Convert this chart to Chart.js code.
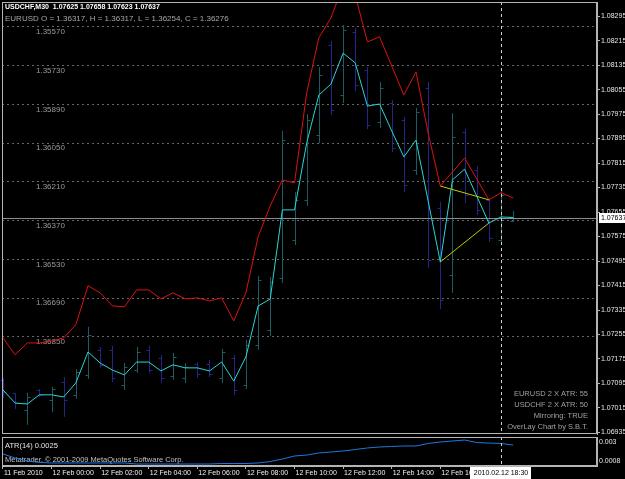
<!DOCTYPE html>
<html>
<head>
<meta charset="utf-8">
<script src="https://cdn.jsdelivr.net/npm/chart.js@4.4.0/dist/chart.umd.min.js"></script>
<style>
body { margin: 0; background: #000; }
#wrap { position: relative; width: 625px; height: 479px; overflow: hidden; background: #000; }
canvas { position: absolute; left: 0; }
#mainChart { top: 0; }
#atrChart { top: 435px; }
</style>
</head>
<body>
<div id="wrap">
<canvas id="mainChart" width="625" height="435"></canvas>
<canvas id="atrChart" width="625" height="44"></canvas>
</div>
<script>
// USDCHF M30 with mirrored EURUSD overlay, 11 Feb 22:00 .. 12 Feb 19:00
const tickBars = [0, 4, 8, 12, 16, 20, 24, 28, 32, 36];
const tickLabels = ['11 Feb 2010', '12 Feb 00:00', '12 Feb 02:00', '12 Feb 04:00', '12 Feb 06:00',
    '12 Feb 08:00', '12 Feb 10:00', '12 Feb 12:00', '12 Feb 14:00', '12 Feb 16:00'];

const usdchfTicks = [1.08295, 1.08215, 1.08135, 1.08055, 1.07975, 1.07895, 1.07815, 1.07735, 1.07655,
    1.07575, 1.07495, 1.07415, 1.07335, 1.07255, 1.07175, 1.07095, 1.07015, 1.06935];
const eurusdTicks = [1.35570, 1.35730, 1.35890, 1.36050, 1.36210, 1.36370, 1.36530, 1.36690, 1.36850];
const atrTicks = [0.003, 0.0008];
const atrTickLabels = ['0.003', '0.0008'];

// USDCHF bars
const barOpen = [1.07107, 1.07064, 1.07009, 1.07074, 1.07041, 1.07100, 1.07058, 1.07123, 1.07205, 1.07205,
    1.07090, 1.07139, 1.07205, 1.07178, 1.07120, 1.07113, 1.07159, 1.07159, 1.07113, 1.07178,
    1.07090, 1.07221, 1.07270, 1.07440, 1.07564, 1.07694, 1.07906, 1.08200, 1.08037, 1.08243,
    1.08119, 1.07949, 1.08011, 1.07955, 1.07792, 1.08060, 1.07668, 1.07449, 1.07916, 1.07792,
    1.07694, 1.07564, 1.07625];
const barHigh = [1.07113, 1.07064, 1.07064, 1.07077, 1.07084, 1.07116, 1.07142, 1.07280, 1.07214, 1.07218,
    1.07162, 1.07214, 1.07218, 1.07188, 1.07195, 1.07162, 1.07165, 1.07172, 1.07208, 1.07188,
    1.07237, 1.07446, 1.07443, 1.07920, 1.07720, 1.07975, 1.08128, 1.08213, 1.08266, 1.08256,
    1.08128, 1.08080, 1.08021, 1.07965, 1.07995, 1.08080, 1.07688, 1.07978, 1.07926, 1.07805,
    1.07701, 1.07733, 1.07658];
const barLow = [1.07048, 1.07012, 1.06960, 1.07051, 1.07002, 1.06986, 1.07045, 1.07110, 1.07146, 1.07100,
    1.07074, 1.07129, 1.07129, 1.07097, 1.07107, 1.07097, 1.07113, 1.07116, 1.07097, 1.07058,
    1.07077, 1.07205, 1.07250, 1.07423, 1.07547, 1.07675, 1.07880, 1.07972, 1.08011, 1.08050,
    1.07926, 1.07929, 1.07851, 1.07720, 1.07776, 1.07472, 1.07338, 1.07391, 1.07684, 1.07645,
    1.07557, 1.07547, 1.07623];
const barClose = [1.07067, 1.07031, 1.07051, 1.07058, 1.07077, 1.07041, 1.07133, 1.07254, 1.07156, 1.07113,
    1.07149, 1.07198, 1.07139, 1.07113, 1.07182, 1.07149, 1.07126, 1.07126, 1.07198, 1.07074,
    1.07221, 1.07433, 1.07427, 1.07890, 1.07694, 1.07955, 1.08102, 1.07988, 1.08249, 1.08070,
    1.07939, 1.08060, 1.07864, 1.07743, 1.07982, 1.07498, 1.07368, 1.07900, 1.07711, 1.07662,
    1.07570, 1.07711, 1.07637];

// overlay lines
const usdchfLine = [1.07074, 1.07031, 1.07028, 1.07058, 1.07058, 1.07051, 1.07097, 1.07198, 1.07162, 1.07139,
    1.07123, 1.07165, 1.07165, 1.07136, 1.07156, 1.07146, 1.07146, 1.07136, 1.07165, 1.07103,
    1.07182, 1.07348, 1.07371, 1.07662, 1.07662, 1.07880, 1.08037, 1.08073, 1.08174, 1.08142,
    1.08001, 1.08008, 1.07920, 1.07835, 1.07890, 1.07691, 1.07492, 1.07760, 1.07795, 1.07707,
    1.07619, 1.07639, 1.07637];
const eurusdLine = [1.36854, 1.36924, 1.36875, 1.36875, 1.36867, 1.36854, 1.36800, 1.36639, 1.36668, 1.36722,
    1.36726, 1.36656, 1.36656, 1.36693, 1.36668, 1.36693, 1.36689, 1.36701, 1.36689, 1.36784,
    1.36668, 1.36437, 1.36309, 1.36202, 1.36214, 1.35843, 1.35615, 1.35533, 1.35397, 1.35438,
    1.35632, 1.35611, 1.35731, 1.35851, 1.35756, 1.36008, 1.36227, 1.36169, 1.36111, 1.36198,
    1.36284, 1.36255, 1.36276];
const trendBars = [36, 40];

const atrValues = [0.00161, 0.00115, 0.00080, 0.00063, 0.00057, 0.00057, 0.00057, 0.00057, 0.00057, 0.00057,
    0.00057, 0.00045, 0.00045, 0.00045, 0.00045, 0.00045, 0.00045, 0.00045, 0.00051, 0.00051,
    0.00051, 0.00057, 0.00074, 0.00103, 0.00138, 0.00149, 0.00173, 0.00184, 0.00196, 0.00213,
    0.00231, 0.00242, 0.00248, 0.00254, 0.00254, 0.00283, 0.00300, 0.00312, 0.00323, 0.00294,
    0.00288, 0.00283, 0.00265];

const lastPrice = 1.07637;
const cursorBar = 41;
const cursorLabel = '2010.02.12 18:30';

Chart.defaults.font.family = "'Liberation Sans', Arial, sans-serif";

const xMin = -0.08, xMax = 48.9;
const frameColor = '#b4b4b4';

function pts(arr) { return arr.map((v, i) => ({ x: i, y: v })); }
function noPad(s) { s.paddingTop = 0; s.paddingBottom = 0; s.paddingLeft = 0; s.paddingRight = 0; }

function drawCursor(chart) {
    const { ctx, chartArea, scales: { x } } = chart;
    const cx = Math.round(x.getPixelForValue(cursorBar)) + 0.5;
    ctx.save();
    ctx.strokeStyle = '#d0d0d0';
    ctx.setLineDash([3, 3]);
    ctx.beginPath();
    ctx.moveTo(cx, chartArea.top);
    ctx.lineTo(cx, chartArea.bottom);
    ctx.stroke();
    ctx.restore();
}

function drawFrame(chart) {
    const { ctx, chartArea: a } = chart;
    ctx.save();
    ctx.strokeStyle = frameColor;
    ctx.lineWidth = 1;
    ctx.strokeRect(a.left + 0.5, a.top + 0.5, a.right - a.left - 1, a.bottom - a.top - 1);
    ctx.restore();
}

const mainDecor = {
    id: 'mainDecor',
    beforeDatasetsDraw(chart) {
        const { ctx, chartArea, scales: { x, y } } = chart;
        ctx.save();
        ctx.lineWidth = 1;
        for (let i = 0; i < barClose.length; i++) {
            const px = Math.round(x.getPixelForValue(i)) + 0.5;
            const yo = Math.round(y.getPixelForValue(barOpen[i])) + 0.5;
            const yc = Math.round(y.getPixelForValue(barClose[i])) + 0.5;
            ctx.strokeStyle = barClose[i] >= barOpen[i] ? '#1d5c64' : '#24248a';
            ctx.beginPath();
            ctx.moveTo(px, y.getPixelForValue(barHigh[i]));
            ctx.lineTo(px, y.getPixelForValue(barLow[i]));
            ctx.moveTo(px - 3, yo); ctx.lineTo(px, yo);
            ctx.moveTo(px, yc); ctx.lineTo(px + 3, yc);
            ctx.stroke();
        }
        // bid line
        const py = Math.round(y.getPixelForValue(lastPrice)) + 0.5;
        ctx.strokeStyle = '#8c8c8c';
        ctx.beginPath();
        ctx.moveTo(chartArea.left, py);
        ctx.lineTo(chartArea.right, py);
        ctx.stroke();
        ctx.restore();
    },
    afterDraw(chart) {
        const { ctx, chartArea, scales: { y } } = chart;
        drawCursor(chart);
        drawFrame(chart);
        ctx.save();
        ctx.textBaseline = 'middle';
        ctx.textAlign = 'left';
        ctx.fillStyle = '#ffffff';
        ctx.font = "bold 7px 'Liberation Sans', Arial";
        ctx.fillText('USDCHF,M30  1.07625 1.07658 1.07623 1.07637', 5, 7);
        ctx.fillStyle = '#a8a8a8';
        ctx.font = "8px 'Liberation Sans', Arial";
        ctx.fillText('EURUSD O = 1.36317, H = 1.36317, L = 1.36254, C = 1.36276', 5, 19);

        ctx.textAlign = 'right';
        ctx.font = "7.5px 'Liberation Sans', Arial";
        ctx.fillStyle = '#a0a0a0';
        ctx.fillText('EURUSD 2 X ATR: 55', 588, 394);
        ctx.fillText('USDCHF 2 X ATR: 50', 588, 405);
        ctx.fillText('Mirroring: TRUE', 588, 416);
        ctx.fillText('OverLay Chart by S.B.T.', 588, 427);

        // current price box on the axis
        const py = Math.round(y.getPixelForValue(lastPrice));
        ctx.fillStyle = '#ffffff';
        ctx.fillRect(chartArea.right + 2, py - 5, 28, 10);
        ctx.fillStyle = '#000000';
        ctx.textAlign = 'left';
        ctx.font = "7px 'Liberation Sans', Arial";
        ctx.fillText(lastPrice.toFixed(5), chartArea.right + 4, py);
        ctx.restore();
    }
};

new Chart(document.getElementById('mainChart').getContext('2d'), {
    type: 'line',
    data: {
        datasets: [
            {
                data: trendBars.map(i => ({ x: i, y: eurusdLine[i] })),
                yAxisID: 'y2', borderColor: '#c8c800', borderWidth: 1, pointRadius: 0
            },
            {
                data: trendBars.map(i => ({ x: i, y: usdchfLine[i] })),
                yAxisID: 'y', borderColor: '#c8c800', borderWidth: 1, pointRadius: 0
            },
            {
                label: 'USDCHF',
                data: pts(usdchfLine),
                yAxisID: 'y', borderColor: '#2ad6d6', borderWidth: 1, pointRadius: 0, tension: 0
            },
            {
                label: 'EURUSD',
                data: pts(eurusdLine),
                yAxisID: 'y2', borderColor: '#dd1111', borderWidth: 1, pointRadius: 0, tension: 0
            }
        ]
    },
    options: {
        responsive: false,
        animation: false,
        events: [],
        layout: { padding: { left: 2, top: 2, right: 0, bottom: 1 } },
        plugins: { legend: { display: false }, tooltip: { enabled: false } },
        scales: {
            x: { type: 'linear', min: xMin, max: xMax, display: false },
            y: {
                position: 'right',
                min: 1.06930, max: 1.08341,
                afterBuildTicks: s => { s.ticks = usdchfTicks.map(v => ({ value: v })); },
                afterFit: s => { s.width = 28; noPad(s); },
                grid: { drawOnChartArea: false, tickLength: 3, color: frameColor },
                border: { display: true, color: frameColor },
                ticks: {
                    padding: 1, color: '#e8e8e8',
                    font: { size: 7 },
                    callback: v => v.toFixed(5)
                }
            },
            y2: {
                position: 'left',
                reverse: true,
                min: 1.35467, max: 1.37251,
                afterBuildTicks: s => { s.ticks = eurusdTicks.map(v => ({ value: v })); },
                afterFit: s => { s.width = 0; noPad(s); },
                grid: { color: '#66665e', drawTicks: false },
                border: { display: false, dash: [2, 3] },
                ticks: {
                    mirror: true, padding: 34, labelOffset: 5,
                    color: '#9a9a9a', font: { size: 8 },
                    callback: v => v.toFixed(5)
                }
            }
        }
    },
    plugins: [mainDecor]
});

const atrDecor = {
    id: 'atrDecor',
    beforeDatasetsDraw(chart) {
        const { ctx } = chart;
        ctx.save();
        ctx.textBaseline = 'middle';
        ctx.font = "7.5px 'Liberation Sans', Arial";
        ctx.fillStyle = '#e8e8e8';
        ctx.fillText('ATR(14) 0.0025', 5, 11);
        ctx.fillStyle = '#c0c0c0';
        ctx.fillText('Metatrader, \u00a9 2001-2009 MetaQuotes Software Corp.', 5, 25);
        ctx.restore();
    },
    afterDraw(chart) {
        const { ctx, scales: { x } } = chart;
        drawCursor(chart);
        drawFrame(chart);
        const cx = Math.round(x.getPixelForValue(cursorBar));
        ctx.save();
        ctx.fillStyle = '#ffffff';
        ctx.fillRect(cx - 31, 32, 61, 12);
        ctx.fillStyle = '#000000';
        ctx.textAlign = 'center';
        ctx.textBaseline = 'middle';
        ctx.font = "7px 'Liberation Sans', Arial";
        ctx.fillText(cursorLabel, cx, 38.5);
        ctx.restore();
    }
};

new Chart(document.getElementById('atrChart').getContext('2d'), {
    type: 'line',
    data: {
        datasets: [{
            label: 'ATR(14)',
            data: pts(atrValues),
            borderColor: '#1e78dc', borderWidth: 1, pointRadius: 0, tension: 0
        }]
    },
    options: {
        responsive: false,
        animation: false,
        events: [],
        layout: { padding: { left: 2, top: 2, right: 0, bottom: 0 } },
        plugins: { legend: { display: false }, tooltip: { enabled: false } },
        scales: {
            x: {
                type: 'linear', min: xMin, max: xMax, position: 'bottom',
                afterBuildTicks: s => { s.ticks = tickBars.map(v => ({ value: v })); },
                afterFit: s => { s.height = 13; noPad(s); },
                grid: { drawOnChartArea: false, tickLength: 3, color: frameColor },
                border: { display: true, color: frameColor },
                ticks: {
                    align: 'start', padding: 0, labelOffset: 1,
                    autoSkip: false, maxRotation: 0,
                    color: '#f0f0f0', font: { size: 7 },
                    callback: (v, i) => tickLabels[i]
                }
            },
            y: {
                position: 'right',
                min: 0.00022, max: 0.00358,
                afterBuildTicks: s => { s.ticks = atrTicks.map(v => ({ value: v })); },
                afterFit: s => { s.width = 28; noPad(s); },
                grid: { display: false, drawTicks: false },
                border: { display: true, color: frameColor },
                ticks: {
                    padding: 2, color: '#e8e8e8', font: { size: 7 },
                    callback: (v, i) => atrTickLabels[i]
                }
            }
        }
    },
    plugins: [atrDecor]
});
</script>
</body>
</html>
